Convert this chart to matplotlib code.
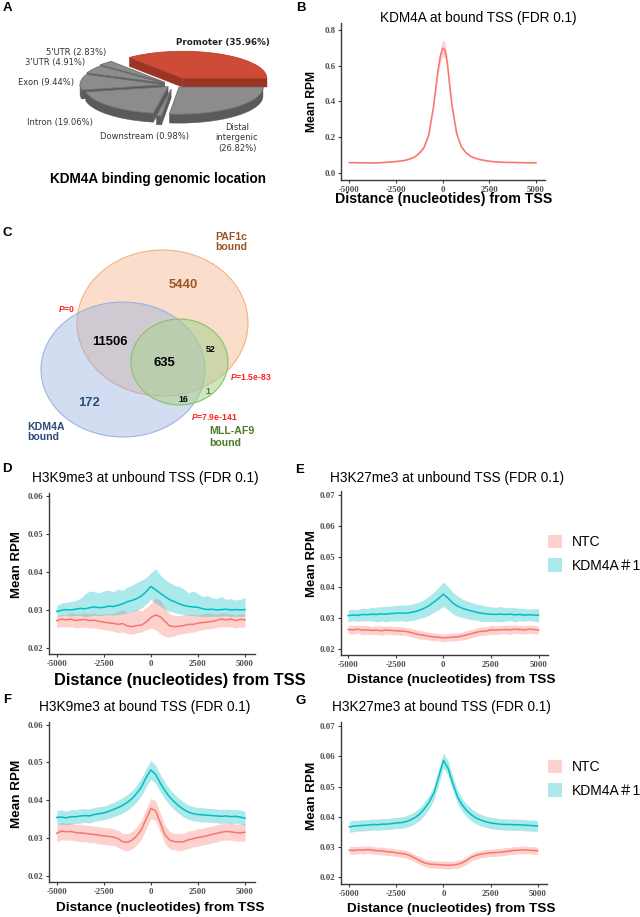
import numpy as np
import matplotlib
matplotlib.use("Agg")
import matplotlib.pyplot as plt
from matplotlib.patches import Polygon, Ellipse, Rectangle

plt.rcParams['font.family'] = ['Liberation Sans', 'DejaVu Sans', 'Noto Sans CJK SC']
plt.rcParams['mathtext.fontset'] = 'custom'
plt.rcParams['mathtext.it'] = 'Liberation Sans:italic:bold'
plt.rcParams['mathtext.rm'] = 'Liberation Sans:bold'

# ---------------- data ----------------
pie_labels = ['Promoter', "5'UTR", "3'UTR", 'Exon', 'Intron', 'Downstream', 'Distal intergenic']
pie_pcts = [35.96, 2.83, 4.91, 9.44, 19.06, 0.98, 26.82]

venn_sets = ['PAF1c\nbound', 'KDM4A\nbound', 'MLL-AF9\nbound']
venn_regions = ['PAF1c only', 'KDM4A & PAF1c', 'all three', 'PAF1c & MLL-AF9',
                'MLL-AF9 only', 'KDM4A & MLL-AF9', 'KDM4A only']
venn_counts = [5440, 11506, 635, 52, 1, 16, 172]
venn_pvalues = ['0', '1.5e-83', '7.9e-141']

groups = ['NTC', 'KDM4A\uff031']
dist = list(range(-5000, 5001, 250))
x_ticks = [-5000, -2500, 0, 2500, 5000]

# B: KDM4A at bound TSS (finer sampling around the peak)
b_dist = [-5000, -4750, -4500, -4250, -4000, -3750, -3500, -3250, -3000, -2750,
          -2500, -2250, -2000, -1750, -1500, -1250, -1000, -750, -500, -375,
          -250, -125, 0, 125, 250, 375, 500, 750, 1000, 1250,
          1500, 1750, 2000, 2250, 2500, 2750, 3000, 3250, 3500, 3750,
          4000, 4250, 4500, 4750, 5000]
b_mean = [0.057, 0.057, 0.056, 0.056, 0.055, 0.055, 0.056, 0.057, 0.059, 0.061,
          0.063, 0.066, 0.070, 0.078, 0.089, 0.110, 0.142, 0.212, 0.365, 0.470,
          0.575, 0.655, 0.700, 0.690, 0.615, 0.490, 0.375, 0.220, 0.145, 0.112,
          0.092, 0.081, 0.074, 0.069, 0.065, 0.062, 0.060, 0.059, 0.058, 0.058,
          0.057, 0.057, 0.056, 0.056, 0.056]
b_hw = [0.003, 0.003, 0.003, 0.003, 0.003, 0.003, 0.003, 0.003, 0.003, 0.003,
        0.003, 0.003, 0.003, 0.004, 0.004, 0.005, 0.007, 0.011, 0.018, 0.024,
        0.030, 0.040, 0.045, 0.042, 0.036, 0.028, 0.022, 0.013, 0.008, 0.006,
        0.005, 0.004, 0.004, 0.003, 0.003, 0.003, 0.003, 0.003, 0.003, 0.003,
        0.003, 0.003, 0.003, 0.003, 0.003]

# D: H3K9me3 at unbound TSS
d_kdm_mean = [0.0296, 0.0299, 0.0301, 0.0300, 0.0302, 0.0304, 0.0303, 0.0306, 0.0308, 0.0306,
              0.0307, 0.0310, 0.0309, 0.0312, 0.0316, 0.0322, 0.0325, 0.0330, 0.0337, 0.0348,
              0.0362,
              0.0353, 0.0344, 0.0335, 0.0327, 0.0322, 0.0316, 0.0312, 0.0309, 0.0308, 0.0307,
              0.0303, 0.0301, 0.0302, 0.0300, 0.0301, 0.0302, 0.0300, 0.0301, 0.0300, 0.0301]
d_kdm_hi = [0.0312, 0.0318, 0.0320, 0.0322, 0.0325, 0.0330, 0.0342, 0.0350, 0.0348, 0.0345,
            0.0350, 0.0352, 0.0348, 0.0355, 0.0352, 0.0360, 0.0365, 0.0372, 0.0378, 0.0385,
            0.0398,
            0.0408, 0.0392, 0.0380, 0.0372, 0.0365, 0.0362, 0.0355, 0.0345, 0.0350, 0.0343,
            0.0335, 0.0338, 0.0332, 0.0330, 0.0335, 0.0328, 0.0330, 0.0326, 0.0328, 0.0333]
d_kdm_lo = [0.0282, 0.0285, 0.0286, 0.0284, 0.0286, 0.0285, 0.0283, 0.0284, 0.0286, 0.0285,
            0.0286, 0.0288, 0.0286, 0.0288, 0.0290, 0.0292, 0.0295, 0.0300, 0.0305, 0.0315,
            0.0328,
            0.0318, 0.0310, 0.0302, 0.0296, 0.0293, 0.0290, 0.0288, 0.0286, 0.0285, 0.0284,
            0.0283, 0.0282, 0.0284, 0.0283, 0.0284, 0.0285, 0.0283, 0.0284, 0.0283, 0.0284]
d_ntc_mean = [0.0272, 0.0276, 0.0274, 0.0276, 0.0272, 0.0274, 0.0275, 0.0272, 0.0273, 0.0270,
              0.0268, 0.0266, 0.0265, 0.0262, 0.0264, 0.0258, 0.0256, 0.0259, 0.0260, 0.0268,
              0.0280,
              0.0287, 0.0282, 0.0270, 0.0258, 0.0256, 0.0257, 0.0259, 0.0262, 0.0262, 0.0265,
              0.0267, 0.0268, 0.0270, 0.0273, 0.0276, 0.0274, 0.0276, 0.0272, 0.0275, 0.0274]
d_ntc_hi = [0.0284, 0.0288, 0.0287, 0.0292, 0.0290, 0.0289, 0.0293, 0.0290, 0.0292, 0.0288,
            0.0289, 0.0291, 0.0290, 0.0296, 0.0300, 0.0292, 0.0296, 0.0303, 0.0298, 0.0306,
            0.0318,
            0.0332, 0.0325, 0.0305, 0.0290, 0.0286, 0.0285, 0.0288, 0.0289, 0.0288, 0.0287,
            0.0290, 0.0292, 0.0290, 0.0288, 0.0293, 0.0291, 0.0290, 0.0287, 0.0290, 0.0289]
d_ntc_lo = [0.0253, 0.0256, 0.0255, 0.0256, 0.0253, 0.0254, 0.0255, 0.0252, 0.0253, 0.0250,
            0.0248, 0.0246, 0.0244, 0.0240, 0.0242, 0.0238, 0.0236, 0.0240, 0.0242, 0.0248,
            0.0252,
            0.0248, 0.0238, 0.0230, 0.0228, 0.0232, 0.0236, 0.0238, 0.0240, 0.0242, 0.0245,
            0.0248, 0.0250, 0.0251, 0.0254, 0.0256, 0.0255, 0.0256, 0.0253, 0.0255, 0.0254]

# E: H3K27me3 at unbound TSS
e_kdm_mean = [0.0308, 0.0310, 0.0309, 0.0312, 0.0311, 0.0313, 0.0312, 0.0314, 0.0313, 0.0315,
              0.0316, 0.0317, 0.0316, 0.0318, 0.0321, 0.0326, 0.0332, 0.0341, 0.0352, 0.0364,
              0.0378,
              0.0365, 0.0349, 0.0339, 0.0332, 0.0327, 0.0323, 0.0319, 0.0316, 0.0314, 0.0313,
              0.0312, 0.0313, 0.0312, 0.0313, 0.0311, 0.0312, 0.0310, 0.0311, 0.0310, 0.0310]
e_kdm_hw = [0.0020, 0.0018, 0.0019, 0.0021, 0.0020, 0.0022, 0.0024, 0.0023, 0.0025, 0.0024,
            0.0026, 0.0025, 0.0027, 0.0026, 0.0028, 0.0027, 0.0029, 0.0031, 0.0033, 0.0036,
            0.0040,
            0.0038, 0.0035, 0.0033, 0.0030, 0.0029, 0.0028, 0.0026, 0.0027, 0.0025, 0.0024,
            0.0023, 0.0025, 0.0022, 0.0021, 0.0023, 0.0020, 0.0021, 0.0019, 0.0020, 0.0022]
e_ntc_mean = [0.0263, 0.0262, 0.0264, 0.0261, 0.0262, 0.0260, 0.0261, 0.0259, 0.0261, 0.0260,
              0.0259, 0.0258, 0.0257, 0.0254, 0.0250, 0.0246, 0.0244, 0.0241, 0.0239, 0.0238,
              0.0236,
              0.0237, 0.0238, 0.0239, 0.0242, 0.0246, 0.0250, 0.0254, 0.0257, 0.0258, 0.0262,
              0.0261, 0.0262, 0.0263, 0.0262, 0.0264, 0.0263, 0.0262, 0.0264, 0.0263, 0.0261]
e_ntc_hw = [0.0013, 0.0014, 0.0013, 0.0015, 0.0014, 0.0013, 0.0014, 0.0015, 0.0013, 0.0014,
            0.0013, 0.0014, 0.0013, 0.0014, 0.0013, 0.0014, 0.0013, 0.0012, 0.0013, 0.0012,
            0.0013,
            0.0012, 0.0013, 0.0012, 0.0013, 0.0014, 0.0013, 0.0014, 0.0013, 0.0014, 0.0015,
            0.0014, 0.0013, 0.0014, 0.0015, 0.0014, 0.0013, 0.0014, 0.0013, 0.0014, 0.0013]

# F: H3K9me3 at bound TSS
f_kdm_mean = [0.0354, 0.0355, 0.0353, 0.0356, 0.0356, 0.0358, 0.0359, 0.0358, 0.0362, 0.0364,
              0.0366, 0.0370, 0.0375, 0.0380, 0.0386, 0.0394, 0.0404, 0.0418, 0.0435, 0.0460,
              0.0480,
              0.0468, 0.0445, 0.0425, 0.0408, 0.0395, 0.0384, 0.0375, 0.0368, 0.0364, 0.0362,
              0.0361, 0.0360, 0.0359, 0.0358, 0.0357, 0.0358, 0.0356, 0.0357, 0.0355, 0.0352]
f_kdm_hw = [0.0018, 0.0019, 0.0018, 0.0019, 0.0018, 0.0019, 0.0018, 0.0019, 0.0018, 0.0019,
            0.0018, 0.0019, 0.0019, 0.0020, 0.0020, 0.0021, 0.0021, 0.0022, 0.0023, 0.0024,
            0.0025,
            0.0024, 0.0023, 0.0022, 0.0021, 0.0021, 0.0020, 0.0020, 0.0019, 0.0019, 0.0018,
            0.0019, 0.0018, 0.0019, 0.0018, 0.0019, 0.0018, 0.0019, 0.0018, 0.0019, 0.0018]
f_ntc_mean = [0.0312, 0.0318, 0.0316, 0.0317, 0.0314, 0.0313, 0.0312, 0.0310, 0.0309, 0.0307,
              0.0305, 0.0304, 0.0302, 0.0298, 0.0290, 0.0288, 0.0294, 0.0305, 0.0322, 0.0350,
              0.0378,
              0.0372, 0.0340, 0.0308, 0.0294, 0.0290, 0.0289, 0.0290, 0.0295, 0.0298, 0.0301,
              0.0303, 0.0306, 0.0309, 0.0312, 0.0315, 0.0317, 0.0316, 0.0314, 0.0313, 0.0315]
f_ntc_hw = [0.0022, 0.0023, 0.0022, 0.0023, 0.0022, 0.0023, 0.0022, 0.0023, 0.0022, 0.0023,
            0.0022, 0.0023, 0.0022, 0.0023, 0.0022, 0.0023, 0.0023, 0.0024, 0.0025, 0.0026,
            0.0027,
            0.0026, 0.0025, 0.0024, 0.0023, 0.0022, 0.0023, 0.0022, 0.0023, 0.0022, 0.0023,
            0.0022, 0.0023, 0.0022, 0.0023, 0.0022, 0.0023, 0.0022, 0.0023, 0.0022, 0.0023]

# G: H3K27me3 at bound TSS
g_kdm_mean = [0.0367, 0.0370, 0.0371, 0.0372, 0.0373, 0.0375, 0.0374, 0.0376, 0.0376, 0.0378,
              0.0380, 0.0381, 0.0384, 0.0390, 0.0398, 0.0410, 0.0428, 0.0450, 0.0480, 0.0533,
              0.0587,
              0.0560, 0.0510, 0.0466, 0.0439, 0.0420, 0.0406, 0.0396, 0.0389, 0.0384, 0.0380,
              0.0378, 0.0376, 0.0375, 0.0375, 0.0374, 0.0374, 0.0373, 0.0372, 0.0371, 0.0370]
g_kdm_hw = [0.0018, 0.0019, 0.0018, 0.0019, 0.0018, 0.0019, 0.0018, 0.0019, 0.0018, 0.0019,
            0.0018, 0.0019, 0.0019, 0.0020, 0.0020, 0.0021, 0.0021, 0.0022, 0.0023, 0.0024,
            0.0025,
            0.0024, 0.0023, 0.0022, 0.0021, 0.0021, 0.0020, 0.0020, 0.0019, 0.0019, 0.0018,
            0.0019, 0.0018, 0.0019, 0.0018, 0.0019, 0.0018, 0.0019, 0.0018, 0.0019, 0.0018]
g_ntc_mean = [0.0290, 0.0289, 0.0291, 0.0290, 0.0292, 0.0290, 0.0288, 0.0287, 0.0285, 0.0284,
              0.0281, 0.0279, 0.0277, 0.0271, 0.0263, 0.0255, 0.0248, 0.0244, 0.0243, 0.0242,
              0.0241,
              0.0240, 0.0241, 0.0243, 0.0248, 0.0257, 0.0267, 0.0273, 0.0277, 0.0279, 0.0281,
              0.0282, 0.0283, 0.0285, 0.0287, 0.0289, 0.0290, 0.0291, 0.0290, 0.0289, 0.0288]
g_ntc_hw = [0.0012, 0.0013, 0.0012, 0.0013, 0.0012, 0.0013, 0.0012, 0.0013, 0.0012, 0.0013,
            0.0012, 0.0013, 0.0012, 0.0013, 0.0012, 0.0013, 0.0012, 0.0013, 0.0012, 0.0013,
            0.0012,
            0.0013, 0.0012, 0.0013, 0.0012, 0.0013, 0.0012, 0.0013, 0.0012, 0.0013, 0.0012,
            0.0013, 0.0012, 0.0013, 0.0012, 0.0013, 0.0012, 0.0013, 0.0012, 0.0013, 0.0012]

# ---------------- figure ----------------
W, H = 640, 917
fig = plt.figure(figsize=(W / 100, H / 100), dpi=100)
ov = fig.add_axes([0, 0, 1, 1])
ov.set_xlim(0, W)
ov.set_ylim(H, 0)
ov.axis('off')

RED = '#F8766D'
CYAN = '#00BFC4'
SANS = ['Liberation Sans', 'Noto Sans CJK SC', 'DejaVu Sans']


def rect_px(x0, y0, x1, y1):
    return [x0 / W, 1 - y1 / H, (x1 - x0) / W, (y1 - y0) / H]


def T(x, y, s, **kw):
    kw.setdefault('ha', 'center')
    kw.setdefault('va', 'center')
    return ov.text(x, y, s, **kw)


# panel letters
for letter, (lx, ly) in zip('ABCDEFG', [(7, 8), (301, 8), (7, 233), (7, 469), (300, 470), (7, 700), (301, 701)]):
    T(lx, ly, letter, fontsize=9.5, fontweight='bold', color='black')

# ---------------- A: 3D pie ----------------
cx0, cy0, ra, rb, depth = 173, 85, 84, 27, 9
explode = [23, 12, 10, 9, 7, 13, 9]
top_cols = ['#CD4B37'] + ['#8C8C8C'] * 6
edge_cols = ['#B8402E'] + ['#6E6E6E'] * 6
side_cols = ['#9A3424'] + ['#5A5A5A'] * 6
ends = np.cumsum(pie_pcts) * 3.6
starts = np.concatenate([[0.0], ends[:-1]])


def ept(c, th, dz=0.0):
    t = np.radians(th)
    return (c[0] + ra * np.cos(t), c[1] - rb * np.sin(t) + dz)


mids = (starts + ends) / 2
order = np.argsort(-np.sin(np.radians(mids)))
for i in order:
    th1, th2, m = starts[i], ends[i], mids[i]
    e = explode[i]
    c = (cx0 + e * np.cos(np.radians(m)), cy0 - e * np.sin(np.radians(m)) * rb / ra)
    cb = (c[0], c[1] + depth)
    # radial faces that face the viewer
    for th, vis in [(th1, np.cos(np.radians(th1)) > 0), (th2, np.cos(np.radians(th2)) < 0)]:
        if vis:
            poly = [c, ept(c, th), ept(c, th, depth), cb]
            ov.add_patch(Polygon(poly, closed=True, fc=side_cols[i], ec=side_cols[i], lw=0.3))
    # outer wall (front half)
    a0, a1 = max(th1, 180), min(th2, 360)
    if a1 > a0:
        arc = np.linspace(a0, a1, 60)
        topc = [ept(c, t) for t in arc]
        botc = [ept(c, t, depth) for t in arc[::-1]]
        ov.add_patch(Polygon(topc + botc, closed=True, fc=side_cols[i], ec=side_cols[i], lw=0.3))
    arc = np.linspace(th1, th2, 80)
    ov.add_patch(Polygon([c] + [ept(c, t) for t in arc], closed=True,
                         fc=top_cols[i], ec=edge_cols[i], lw=0.6))

pie_fs = 6
PF = 'DejaVu Sans'
T(176, 43, f'{pie_labels[0]} ({pie_pcts[0]:.2f}%)', ha='left', fontsize=pie_fs + 0.3,
  fontweight='bold', family=PF, color='#222222')
T(46, 53, f'{pie_labels[1]} ({pie_pcts[1]:.2f}%)', ha='left', fontsize=pie_fs, family=PF, color='#333333')
T(25, 63, f'{pie_labels[2]} ({pie_pcts[2]:.2f}%)', ha='left', fontsize=pie_fs, family=PF, color='#333333')
T(18, 82, f'{pie_labels[3]} ({pie_pcts[3]:.2f}%)', ha='left', fontsize=pie_fs, family=PF, color='#333333')
T(27, 123, f'{pie_labels[4]} ({pie_pcts[4]:.2f}%)', ha='left', fontsize=pie_fs, family=PF, color='#333333')
T(100, 137, f'{pie_labels[5]} ({pie_pcts[5]:.2f}%)', ha='left', fontsize=pie_fs, family=PF, color='#333333')
T(237, 138, 'Distal\nintergenic\n(%.2f%%)' % pie_pcts[6], fontsize=pie_fs, family=PF,
  color='#333333', linespacing=1.25)
T(158, 179, 'KDM4A binding genomic location', fontsize=9.8, fontweight='bold')

# ---------------- C: Venn ----------------
ov.add_patch(Ellipse((162.5, 323), 171, 146, fc='#F4B183', alpha=0.42, ec='none'))
ov.add_patch(Ellipse((162.5, 323), 171, 146, fc='none', ec='#F4B183', lw=0.8))
ov.add_patch(Ellipse((123, 369.5), 164, 135, fc='#8FAADC', alpha=0.40, ec='none'))
ov.add_patch(Ellipse((123, 369.5), 164, 135, fc='none', ec='#9DB5E0', lw=0.8))
ov.add_patch(Ellipse((179.5, 362), 97, 86, fc='#A9D18E', alpha=0.55, ec='none'))
ov.add_patch(Ellipse((179.5, 362), 97, 86, fc='none', ec='#8CC06B', lw=0.8))

BROWN = '#9C5524'
NAVY = '#2F4B7C'
DGREEN = '#4E7A2A'
T(215, 242, venn_sets[0], ha='left', fontsize=7.6, fontweight='bold', color=BROWN, linespacing=1.1)
T(27, 432, venn_sets[1], ha='left', fontsize=7.6, fontweight='bold', color=NAVY, linespacing=1.1)
T(209, 437, venn_sets[2], ha='left', fontsize=7.6, fontweight='bold', color=DGREEN, linespacing=1.2)

venn_pos = [(183, 285), (110, 342), (164, 363), (211, 350), (208, 391), (183, 400), (89, 403)]
venn_size = [9.4, 9.4, 9.4, 6.3, 6.3, 6.3, 9.4]
venn_col = [BROWN, 'black', 'black', 'black', DGREEN, 'black', NAVY]
for (vx, vy), n, fs, col in zip(venn_pos, venn_counts, venn_size, venn_col):
    T(vx, vy, str(n), fontsize=fs, fontweight='bold', color=col)

for (px, py), pv in zip([(58, 309), (230, 377), (191, 417)], venn_pvalues):
    T(px, py, r'$\mathit{P}$=' + pv, ha='left', fontsize=6.2, fontweight='bold', color='#FF2020')


# ---------------- profile panels ----------------
def profile(rect, xlim, ylim, yticks, fmt, series, xs=dist):
    ax = fig.add_axes(rect)
    ax.patch.set_alpha(0)
    for mean, lo, hi, lc in series:
        ax.fill_between(xs, lo, hi, color=lc, alpha=0.33, lw=0)
    for mean, lo, hi, lc in series:
        ax.plot(xs, mean, color=lc, lw=1.1)
    ax.set_xlim(*xlim)
    ax.set_ylim(*ylim)
    ax.set_xticks(x_ticks)
    ax.set_xticklabels([str(v) for v in x_ticks])
    ax.set_yticks(yticks)
    ax.set_yticklabels([fmt % v for v in yticks])
    for s in ['top', 'right']:
        ax.spines[s].set_visible(False)
    for s in ['left', 'bottom']:
        ax.spines[s].set_color('#3A3A3A')
        ax.spines[s].set_linewidth(1.0)
    ax.tick_params(length=2.5, width=0.8, color='#3A3A3A', labelsize=6.3,
                   labelcolor='#4D4D4D', pad=1.5)
    for lab in ax.get_xticklabels() + ax.get_yticklabels():
        lab.set_fontfamily('Liberation Serif')
        lab.set_fontweight('bold')
    return ax


def band(mean, hw):
    m = np.array(mean)
    h = np.array(hw)
    return m - h, m + h


lo, hi = band(b_mean, b_hw)
profile(rect_px(341, 23, 545, 180), (-5445, 5480), (-0.041, 0.841),
        [0.0, 0.2, 0.4, 0.6, 0.8], '%.1f', [(b_mean, lo, hi, RED)], xs=b_dist)

profile(rect_px(49, 493, 255, 654), (-5410, 5530), (0.0184, 0.0608),
        [0.02, 0.03, 0.04, 0.05, 0.06], '%.2f',
        [(d_ntc_mean, d_ntc_lo, d_ntc_hi, RED), (d_kdm_mean, d_kdm_lo, d_kdm_hi, CYAN)])

lo1, hi1 = band(e_ntc_mean, e_ntc_hw)
lo2, hi2 = band(e_kdm_mean, e_kdm_hw)
profile(rect_px(341, 491, 548, 655), (-5370, 5495), (0.0180, 0.0714),
        [0.02, 0.03, 0.04, 0.05, 0.06, 0.07], '%.2f',
        [(e_ntc_mean, lo1, hi1, RED), (e_kdm_mean, lo2, hi2, CYAN)])

lo1, hi1 = band(f_ntc_mean, f_ntc_hw)
lo2, hi2 = band(f_kdm_mean, f_kdm_hw)
profile(rect_px(49, 722, 255, 882), (-5410, 5530), (0.0183, 0.0607),
        [0.02, 0.03, 0.04, 0.05, 0.06], '%.2f',
        [(f_ntc_mean, lo1, hi1, RED), (f_kdm_mean, lo2, hi2, CYAN)])

lo1, hi1 = band(g_ntc_mean, g_ntc_hw)
lo2, hi2 = band(g_kdm_mean, g_kdm_hw)
profile(rect_px(341, 722, 547, 884), (-5440, 5500), (0.0178, 0.0714),
        [0.02, 0.03, 0.04, 0.05, 0.06, 0.07], '%.2f',
        [(g_ntc_mean, lo1, hi1, RED), (g_kdm_mean, lo2, hi2, CYAN)])

# titles
T(478, 18, 'KDM4A at bound TSS (FDR 0.1)', fontsize=9.8)
T(145, 478, 'H3K9me3 at unbound TSS (FDR 0.1)', fontsize=9.8)
T(447, 478, 'H3K27me3 at unbound TSS (FDR 0.1)', fontsize=9.8)
T(145, 707, 'H3K9me3 at bound TSS (FDR 0.1)', fontsize=9.8)
T(441, 707, 'H3K27me3 at bound TSS (FDR 0.1)', fontsize=9.8)

# axis labels
for (x, y, fs) in [(312, 102, 8.7), (17, 565, 9.5), (312, 564, 9.5), (17, 794, 9.7), (312, 796, 9.7)]:
    T(x, y, 'Mean RPM', rotation=90, fontsize=fs, fontweight='bold')
for (x, y, fs) in [(444, 199, 10.2), (180, 680, 11.8), (451, 680, 9.7), (160, 908, 9.7), (451, 909, 9.7)]:
    T(x, y, 'Distance (nucleotides) from TSS', fontsize=fs, fontweight='bold')

# legends (E and G)
for y0 in [535, 760]:
    ov.add_patch(Rectangle((548, y0), 14, 13, fc=RED, alpha=0.33, ec='none'))
    ov.add_patch(Rectangle((548, y0 + 23), 14, 14, fc=CYAN, alpha=0.33, ec='none'))
    T(572, y0 + 7, groups[0], ha='left', fontsize=10, family=SANS)
    T(572, y0 + 31, groups[1], ha='left', fontsize=10, family=SANS)

fig.savefig('out.png', dpi=100)
